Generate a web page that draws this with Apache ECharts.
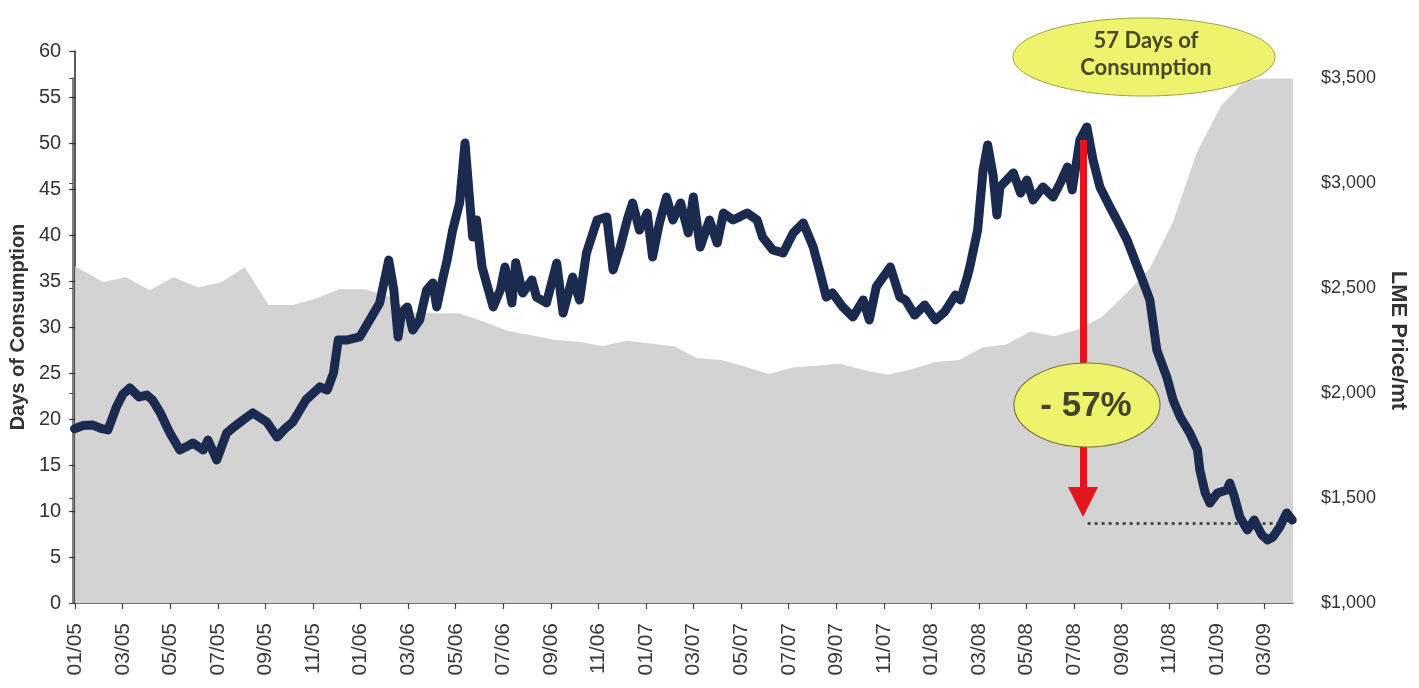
<!DOCTYPE html>
<html>
<head>
<meta charset="utf-8">
<title>Aluminium stocks vs LME price</title>
<script src="https://cdn.jsdelivr.net/npm/echarts/dist/echarts.min.js"></script>
<style>
  html, body { margin: 0; padding: 0; background: #ffffff; overflow: hidden; }
  #chart { width: 1419px; height: 688px; }
</style>
</head>
<body>
<div id="chart"></div>
<script>
// Two-month tick labels along the date axis (MM/YY)
const xTickLabels = ['01/05','03/05','05/05','07/05','09/05','11/05','01/06','03/06','05/06','07/06',
  '09/06','11/06','01/07','03/07','05/07','07/07','09/07','11/07','01/08','03/08','05/08','07/08',
  '09/08','11/08','01/09','03/09'];
const axisStartDate = '2005-01-01';
const axisEndDate = '2009-04-07';

// Reported stocks, expressed as days of consumption (monthly)
const stockDates = ['2005-01-01','2005-02-06','2005-03-05','2005-04-05','2005-05-05','2005-06-06',
  '2005-07-06','2005-08-05','2005-09-05','2005-10-06','2005-11-05','2005-12-04','2006-01-06',
  '2006-02-05','2006-03-06','2006-04-06','2006-05-05','2006-06-06','2006-07-06','2006-08-06',
  '2006-09-06','2006-10-06','2006-11-06','2006-12-06','2007-01-06','2007-02-06','2007-03-06',
  '2007-04-06','2007-05-06','2007-06-06','2007-07-06','2007-08-06','2007-09-06','2007-10-06',
  '2007-11-06','2007-12-06','2008-01-06','2008-02-06','2008-03-06','2008-04-06','2008-05-06',
  '2008-06-06','2008-07-06','2008-08-06','2008-09-06','2008-10-06','2008-11-06','2008-12-06',
  '2009-01-06','2009-02-06','2009-03-06','2009-04-07'];
const stockDays = [36.6,34.9,35.4,34.0,35.4,34.3,34.9,36.5,32.4,32.4,33.1,34.1,34.1,
  33.4,31.6,31.5,31.5,30.6,29.6,29.1,28.6,28.4,27.9,28.5,28.2,27.9,26.6,
  26.4,25.7,24.9,25.6,25.8,26.0,25.3,24.8,25.4,26.2,26.4,27.8,28.1,29.5,
  29.0,29.7,31.1,33.6,36.3,41.5,49.0,54.0,56.8,57.0,57.0];

// LME cash price, US$ per metric tonne
const priceDates = ['2005-01-03','2005-01-14','2005-01-26','2005-02-07','2005-02-14','2005-02-24',
  '2005-03-04','2005-03-13','2005-03-25','2005-04-04','2005-04-11','2005-04-21','2005-05-03',
  '2005-05-16','2005-05-25','2005-06-02','2005-06-15','2005-06-21','2005-07-02','2005-07-15',
  '2005-07-25','2005-08-05','2005-08-18','2005-09-05','2005-09-18','2005-09-28','2005-10-08',
  '2005-10-25','2005-11-12','2005-11-21','2005-11-29','2005-12-05','2005-12-16','2006-01-02',
  '2006-01-15','2006-01-28','2006-02-08','2006-02-14','2006-02-19','2006-02-23','2006-03-02',
  '2006-03-09','2006-03-18','2006-03-27','2006-04-04','2006-04-09','2006-04-17','2006-04-22',
  '2006-04-29','2006-05-08','2006-05-15','2006-05-21','2006-05-25','2006-05-30','2006-06-06',
  '2006-06-13','2006-06-20','2006-06-29','2006-07-05','2006-07-14','2006-07-19','2006-07-28',
  '2006-08-09','2006-08-15','2006-08-28','2006-09-10','2006-09-18','2006-09-30','2006-10-09',
  '2006-10-18','2006-11-01','2006-11-13','2006-11-21','2006-11-30','2006-12-09','2006-12-16',
  '2006-12-25','2007-01-04','2007-01-11','2007-01-20','2007-01-29','2007-02-06','2007-02-15',
  '2007-02-24','2007-03-02','2007-03-11','2007-03-23','2007-04-02','2007-04-10','2007-04-22',
  '2007-05-01','2007-05-10','2007-05-23','2007-05-30','2007-06-12','2007-06-25','2007-07-08',
  '2007-07-21','2007-08-03','2007-08-11','2007-08-20','2007-08-28','2007-09-10','2007-09-23',
  '2007-10-06','2007-10-14','2007-10-23','2007-11-10','2007-11-22','2007-11-29','2007-12-11',
  '2007-12-24','2008-01-07','2008-01-19','2008-02-02','2008-02-08','2008-02-17','2008-02-20',
  '2008-02-29','2008-03-07','2008-03-13','2008-03-20','2008-03-25','2008-03-29','2008-04-15',
  '2008-04-24','2008-05-02','2008-05-10','2008-05-23','2008-06-05','2008-06-14','2008-06-23',
  '2008-06-29','2008-07-09','2008-07-18','2008-07-26','2008-08-04','2008-08-17','2008-08-26',
  '2008-09-08','2008-09-25','2008-10-07','2008-10-16','2008-10-29','2008-11-06','2008-11-15',
  '2008-11-27','2008-12-07','2008-12-10','2008-12-17','2008-12-23','2009-01-02','2009-01-14',
  '2009-01-18','2009-01-24','2009-01-31','2009-02-09','2009-02-17','2009-02-26','2009-03-05',
  '2009-03-12','2009-03-21','2009-03-30','2009-04-06'];
const priceValues = [1830,1845,1848,1830,1824,1933,
  1995,2024,1981,1990,1967,1905,1810,
  1729,1745,1762,1729,1776,1681,1810,
  1840,1871,1905,1862,1790,1830,1862,
  1967,2029,2014,2095,2252,2252,2267,
  2348,2429,2633,2490,2267,2381,2410,
  2300,2348,2490,2524,2410,2552,2633,
  2776,2905,3190,2919,2743,2824,2600,
  2505,2410,2490,2600,2429,2620,2476,
  2538,2457,2429,2619,2381,2552,2443,
  2667,2824,2838,2586,2695,2824,2905,
  2776,2857,2648,2810,2933,2824,2905,
  2762,2933,2695,2824,2714,2857,2824,
  2840,2857,2824,2743,2681,2667,2762,
  2810,2695,2586,2457,2476,2410,2362,
  2443,2348,2505,2600,2457,2443,2371,
  2419,2348,2386,2467,2443,2562,2610,
  2776,3062,3181,3038,2848,2981,3048,
  2952,3014,2919,2981,2933,3000,3076,
  2967,3205,3267,3110,2981,2886,2824,
  2729,2562,2443,2205,2076,1967,1886,
  1810,1729,1633,1524,1476,1524,1538,
  1571,1505,1410,1348,1395,1324,1300,
  1314,1362,1429,1395];

// Annotation values: the fall from the July 2008 high and the early-2009 floor
const peakLabel = '57 Days of\nConsumption';
const dropLabel = '- 57%';
const arrowDate = '2008-07-13';
const arrowFrom = 3205;
const arrowTo = 1481;
const floorLevel = 1380;
const floorFrom = '2008-07-19';
const floorTo = '2009-03-29';

// Convert a YYYY-MM-DD string to months elapsed since the axis start
function monthPos(s) {
  const p = s.split('-').map(Number);
  const base = axisStartDate.split('-').map(Number);
  const dim = new Date(p[0], p[1], 0).getDate();
  return (p[0] - base[0]) * 12 + (p[1] - base[1]) + (p[2] - 1) / dim;
}

const xMax = monthPos(axisEndDate);
const stockData = stockDates.map((d, i) => [monthPos(d), stockDays[i]]);
const priceData = priceDates.map((d, i) => [monthPos(d), priceValues[i]]);

const textColor = '#333333';
const labelFont = "'Liberation Sans', Arial, sans-serif";
const narrowFont = "'Liberation Sans Narrow', 'Arial Narrow', 'Liberation Sans', Arial, sans-serif";

const chart = echarts.init(document.getElementById('chart'), null, { renderer: 'canvas' });

chart.setOption({
  backgroundColor: '#ffffff',
  animation: false,
  grid: [
    { left: 73, right: 126, top: 51, bottom: 85 },
    { left: 73, right: 126, top: 78, bottom: 85 }
  ],
  xAxis: [
    {
      type: 'value', gridIndex: 0, min: 0, max: xMax, interval: 2,
      axisLine: { show: true, lineStyle: { color: '#444444', width: 1.5 } },
      axisTick: { show: true, length: 6, lineStyle: { color: '#444444', width: 1.2 } },
      splitLine: { show: false },
      axisLabel: {
        rotate: 90, margin: 20, fontSize: 21, color: '#3a3a3a', fontFamily: labelFont,
        showMaxLabel: false,
        formatter: function (v) {
          const i = Math.round(v / 2);
          return (Math.abs(v / 2 - i) < 1e-6 && i < xTickLabels.length) ? xTickLabels[i] : '';
        }
      }
    },
    { type: 'value', gridIndex: 1, min: 0, max: xMax, show: false }
  ],
  yAxis: [
    {
      type: 'value', gridIndex: 0, position: 'left', min: 0, max: 60, interval: 5,
      name: 'Days of Consumption', nameLocation: 'middle', nameGap: 44,
      nameTextStyle: { fontSize: 20, fontWeight: 'bold', color: textColor, fontFamily: labelFont },
      axisLine: { show: true, lineStyle: { color: '#222222', width: 1.5 } },
      axisTick: { show: true, length: 6, lineStyle: { color: '#333333', width: 1.2 } },
      splitLine: { show: false },
      axisLabel: { fontSize: 20, color: textColor, margin: 14, fontFamily: narrowFont }
    },
    {
      type: 'value', gridIndex: 1, position: 'right', min: 1000, max: 3500, interval: 500,
      name: 'LME Price/mt', nameLocation: 'middle', nameRotate: -90, nameGap: 90,
      nameTextStyle: { fontSize: 22, fontWeight: 'bold', color: textColor, fontFamily: labelFont },
      axisLine: { show: true, lineStyle: { color: '#555555', width: 1.5 } },
      axisTick: { show: true, inside: true, length: 4, lineStyle: { color: '#555555' } },
      splitLine: { show: false },
      axisLabel: {
        fontSize: 18, color: textColor, margin: 28, fontFamily: narrowFont,
        formatter: function (v) { return '$' + v.toLocaleString('en-US'); }
      }
    }
  ],
  series: [
    {
      name: 'Days of Consumption', type: 'line', xAxisIndex: 0, yAxisIndex: 0, z: 1,
      data: stockData, showSymbol: false, silent: true,
      lineStyle: { width: 0 },
      areaStyle: { color: '#d3d3d3', opacity: 1 }
    },
    {
      name: 'LME Price', type: 'line', xAxisIndex: 1, yAxisIndex: 1, z: 3,
      data: priceData, showSymbol: false, silent: true,
      lineStyle: { color: '#1b2a4f', width: 9, join: 'round', cap: 'round' },
      markLine: {
        silent: true, z: 2, symbol: ['none', 'none'],
        label: { show: false },
        lineStyle: { color: '#4d4d4d', width: 3, type: [3, 4] },
        data: [[{ coord: [monthPos(floorFrom), floorLevel] }, { coord: [monthPos(floorTo), floorLevel] }]]
      }
    },
    {
      name: 'Drop', type: 'line', xAxisIndex: 1, yAxisIndex: 1, data: [], silent: true,
      markLine: {
        silent: true, z: 5, symbol: ['none', 'triangle'], symbolSize: 30,
        label: { show: false },
        lineStyle: { color: '#e3161d', width: 7, type: 'solid' },
        itemStyle: { color: '#e3161d' },
        data: [[{ coord: [monthPos(arrowDate), arrowFrom] }, { coord: [monthPos(arrowDate), arrowTo] }]]
      }
    }
  ],
  graphic: [
    {
      type: 'ellipse', z: 100, silent: true,
      shape: { cx: 1144, cy: 57, rx: 131, ry: 39 },
      style: { fill: '#eef36e', stroke: '#a3a440', lineWidth: 1 }
    },
    {
      type: 'text', z: 101, silent: true,
      style: {
        text: peakLabel, x: 1146, y: 54, textAlign: 'center', textVerticalAlign: 'middle',
        fontSize: 22, fontWeight: 'bold', fontFamily: "Lato, 'Open Sans', sans-serif",
        lineHeight: 27, fill: '#4a4626'
      }
    },
    {
      type: 'ellipse', z: 100, silent: true,
      shape: { cx: 1087, cy: 405, rx: 73, ry: 42 },
      style: { fill: '#eef36e', stroke: '#7d7a3a', lineWidth: 1.2 }
    },
    {
      type: 'text', z: 101, silent: true,
      style: {
        text: dropLabel, x: 1086, y: 406, textAlign: 'center', textVerticalAlign: 'middle',
        fontSize: 35, fontWeight: 'bold', fontFamily: labelFont, fill: '#45442a'
      }
    }
  ]
});
</script>
</body>
</html>
